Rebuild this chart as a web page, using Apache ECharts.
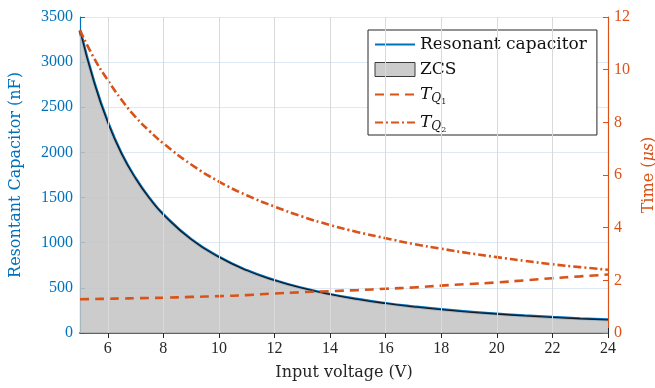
<!DOCTYPE html>
<html>
<head>
<meta charset="utf-8">
<script src="https://cdn.jsdelivr.net/npm/echarts@6/dist/echarts.min.js"></script>
<style>
  html, body { margin: 0; padding: 0; background: #fff; }
  #chart { width: 655px; height: 388px; }
</style>
</head>
<body>
<div id="chart"></div>
<script>
// input voltage (V)
var voltage = [5, 5.5, 6, 6.5, 7, 7.5, 8, 9, 10, 11, 12, 13, 14, 15, 16, 17, 18, 19, 20, 21, 22, 23, 24];
// resonant capacitor (nF), also the ZCS boundary
var capacitance = [3350, 2780, 2330, 1980, 1710, 1490, 1310, 1035, 840, 692, 582, 496, 427, 372, 327, 290, 258, 232, 210, 190, 173, 158, 145];
// switching times (us)
var tq1 = [1.28, 1.29, 1.30, 1.31, 1.32, 1.33, 1.34, 1.37, 1.40, 1.44, 1.50, 1.55, 1.59, 1.63, 1.68, 1.73, 1.80, 1.86, 1.92, 2.00, 2.08, 2.15, 2.22];
var tq2 = [11.5, 10.45, 9.6, 8.85, 8.2, 7.67, 7.2, 6.4, 5.75, 5.23, 4.8, 4.42, 4.1, 3.83, 3.6, 3.38, 3.2, 3.03, 2.88, 2.74, 2.61, 2.5, 2.4];

var xTicks = [6, 8, 10, 12, 14, 16, 18, 20, 22, 24];

var BLUE = '#0072BD';
var ORANGE = '#D95319';
var FONT = 'Liberation Serif';
var TFONT = 'DejaVu Serif';

function pairs(ys) {
    return voltage.map(function (v, i) { return [v, ys[i]]; });
}

// legend entries for lines: line sample only, hide the marker
var noMarker = { color: 'rgba(0,0,0,0)', borderColor: 'rgba(0,0,0,0)', borderWidth: 0 };

var chart = echarts.init(document.getElementById('chart'));

var option = {
    animation: false,
    backgroundColor: '#fff',
    grid: { left: 80, right: 47, top: 17, bottom: 55, outerBoundsMode: 'none', containLabel: false },
    xAxis: [
        {
            type: 'value', min: 5, max: 24,
            name: 'Input voltage (V)', nameLocation: 'middle', nameGap: 32,
            nameTextStyle: { fontFamily: TFONT, fontSize: 16, color: '#262626' },
            axisLine: { lineStyle: { color: '#1f64a3', width: 1.5 } },
            axisTick: { inside: true, length: 5, customValues: xTicks, lineStyle: { color: '#262626' } },
            axisLabel: { customValues: xTicks, fontFamily: FONT, fontSize: 16, color: '#262626', margin: 8 },
            splitLine: { show: false }
        },
        {
            type: 'value', min: 5, max: 24, position: 'top',
            axisLine: { show: true, lineStyle: { color: '#5a5a5a', width: 1.5 } },
            axisTick: { inside: true, length: 5, customValues: xTicks, lineStyle: { color: '#262626' } },
            axisLabel: { show: false },
            splitLine: { show: false }
        }
    ],
    yAxis: [
        {
            type: 'value', min: 0, max: 3500, interval: 500,
            name: 'Resontant Capacitor (nF)', nameLocation: 'middle', nameGap: 56, nameRotate: 90,
            nameTextStyle: { fontFamily: TFONT, fontSize: 16, color: BLUE },
            axisLine: { show: true, lineStyle: { color: BLUE, width: 1.2 } },
            axisTick: { show: true, inside: true, length: 5, lineStyle: { color: BLUE } },
            axisLabel: { fontFamily: FONT, fontSize: 16, color: BLUE, margin: 7, formatter: function (v) { return String(v); } },
            splitLine: { show: true, lineStyle: { color: '#dde9f4', width: 1 } }
        },
        {
            type: 'value', min: 0, max: 12, interval: 2, position: 'right',
            name: '{n|Time (}{i|μs}{n|)}', nameLocation: 'middle', nameGap: 32, nameRotate: 90,
            nameTextStyle: {
                color: ORANGE,
                rich: {
                    n: { fontFamily: TFONT, fontSize: 16, color: ORANGE },
                    i: { fontFamily: TFONT, fontSize: 16, fontStyle: 'italic', color: ORANGE }
                }
            },
            axisLine: { show: true, lineStyle: { color: ORANGE, width: 1.2 } },
            axisTick: { show: true, inside: true, length: 5, lineStyle: { color: ORANGE } },
            axisLabel: { fontFamily: FONT, fontSize: 16, color: ORANGE, margin: 6 },
            splitLine: { show: false }
        }
    ],
    legend: {
        orient: 'vertical',
        left: 368, top: 30,
        padding: [6, 10, 1, 6],
        itemGap: 8,
        itemWidth: 40, itemHeight: 14,
        backgroundColor: '#fff',
        borderColor: '#262626', borderWidth: 1,
        data: [
            { name: 'Resonant capacitor', itemStyle: noMarker },
            { name: 'ZCS', icon: 'rect', itemStyle: { color: '#cccccc', borderColor: '#3a3a3a', borderWidth: 1 } },
            { name: 'TQ1', itemStyle: noMarker },
            { name: 'TQ2', itemStyle: noMarker }
        ],
        formatter: function (name) {
            if (name === 'TQ1') return '{i|T}{s|Q}{ss|1}';
            if (name === 'TQ2') return '{i|T}{s|Q}{ss|2}';
            return '{n|' + name + '}';
        },
        textStyle: {
            rich: {
                n: { fontFamily: TFONT, fontSize: 17, color: '#111' },
                i: { fontFamily: TFONT, fontSize: 17, fontStyle: 'italic', color: '#111' },
                s: { fontFamily: TFONT, fontSize: 12, fontStyle: 'italic', color: '#111', padding: [9, 0, 0, 0] },
                ss: { fontFamily: TFONT, fontSize: 8, color: '#111', padding: [15, 0, 0, 0] }
            }
        }
    },
    series: [
        {
            name: 'ZCS', type: 'line', xAxisIndex: 0, yAxisIndex: 0,
            data: pairs(capacitance), smooth: true, showSymbol: false, symbol: 'none',
            lineStyle: { color: '#111a24', width: 1.3 },
            itemStyle: { color: '#cccccc' },
            areaStyle: { color: '#c3c3c3', opacity: 0.85 },
            z: 2, silent: true
        },
        {
            name: 'grid', type: 'line', xAxisIndex: 0, yAxisIndex: 0, data: [], z: 1, silent: true,
            markLine: {
                silent: true, symbol: 'none', label: { show: false },
                lineStyle: { color: '#d9d9d9', type: 'solid', width: 1 },
                data: xTicks.slice(0, -1).map(function (v) { return { xAxis: v }; })
            }
        },
        {
            name: 'Resonant capacitor', type: 'line', xAxisIndex: 0, yAxisIndex: 0,
            data: pairs(capacitance), smooth: true, symbol: 'none',
            lineStyle: { color: BLUE, width: 3.2 },
            itemStyle: { color: BLUE },
            z: 1
        },
        {
            name: 'TQ1', type: 'line', xAxisIndex: 0, yAxisIndex: 1,
            data: pairs(tq1), smooth: true, symbol: 'none',
            lineStyle: { color: ORANGE, width: 2.6, type: [9, 6] },
            itemStyle: { color: ORANGE },
            z: 3
        },
        {
            name: 'TQ2', type: 'line', xAxisIndex: 0, yAxisIndex: 1,
            data: pairs(tq2), smooth: true, symbol: 'none',
            lineStyle: { color: ORANGE, width: 2.6, type: [8, 3, 2, 3] },
            itemStyle: { color: ORANGE },
            z: 3
        }
    ]
};

chart.setOption(option);
</script>
</body>
</html>
